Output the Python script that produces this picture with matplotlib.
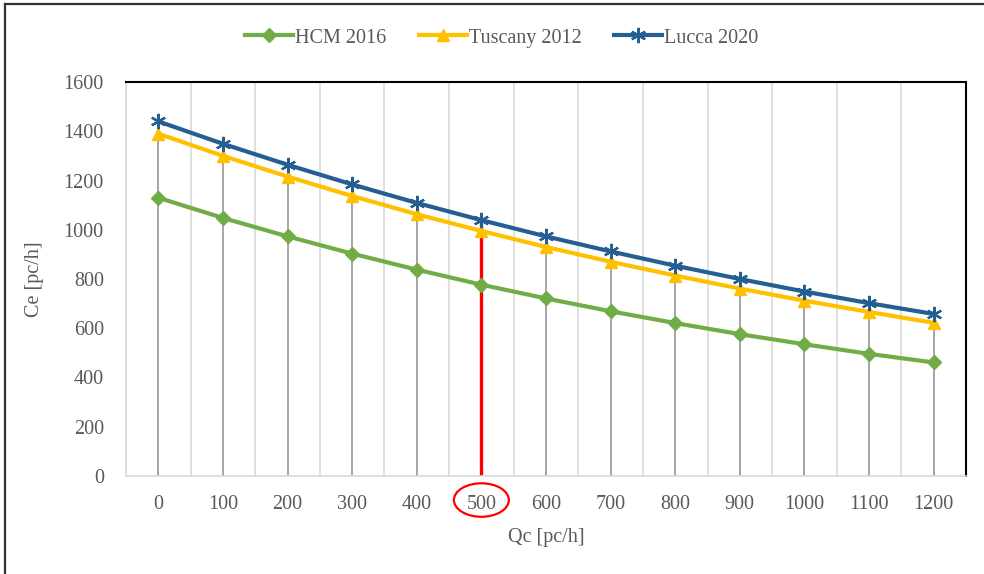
import matplotlib.pyplot as plt
import matplotlib.transforms as mtransforms
from matplotlib.patches import Ellipse
from matplotlib.lines import Line2D

# data
qc = [0, 100, 200, 300, 400, 500, 600, 700, 800, 900, 1000, 1100, 1200]
hcm_2016 = [1130, 1048, 973, 903, 838, 777, 721, 669, 621, 576, 535, 496, 461]
tuscany_2012 = [1390, 1300, 1216, 1137, 1063, 995, 930, 870, 814, 761, 712, 666, 622]
lucca_2020 = [1440, 1349, 1264, 1184, 1109, 1039, 973, 912, 854, 800, 749, 702, 658]
highlight = 500

plt.rcParams['font.family'] = ['Liberation Serif', 'DejaVu Serif']
text_col = '#595959'

fig = plt.figure(figsize=(9.84, 5.74), dpi=100)
ax = fig.add_axes([126 / 984, 1 - 476 / 574, 840 / 984, 394 / 574])

pos = list(range(len(qc)))
top = [max(a, b, c) for a, b, c in zip(hcm_2016, tuscany_2012, lucca_2020)]

# light gridlines between categories
for k in range(len(qc) + 1):
    ax.axvline(k - 0.5, color='#D9D9D9', lw=1.2, zorder=0)

# drop lines
for p, q, t in zip(pos, qc, top):
    if q == highlight:
        ax.vlines(p, 0, t, color='#FF0000', lw=2.4, zorder=1)
    else:
        ax.vlines(p, 0, t, color='#A5A5A5', lw=1.4, zorder=1)

ax.plot(pos, hcm_2016, color='#70AD47', lw=3, marker='D', ms=7, label='HCM 2016', zorder=3)
ax.plot(pos, tuscany_2012, color='#FFC000', lw=3, marker='^', ms=9, label='Tuscany 2012', zorder=3)
ax.plot(pos, lucca_2020, color='#255E91', lw=3, marker=(6, 2, 0), ms=11, mew=1.6,
        label='Lucca 2020', zorder=4)

ax.set_xlim(-0.5, len(qc) - 0.5)
ax.set_ylim(0, 1600)
ax.set_yticks(range(0, 1601, 200))
ax.set_xticks(pos)
ax.set_xticklabels([str(q) for q in qc])
ax.tick_params(axis='both', length=0, labelsize=14.5, colors=text_col)
ax.tick_params(axis='x', pad=14)
ax.tick_params(axis='y', pad=16)

for s in ['left', 'bottom']:
    ax.spines[s].set_color('#D9D9D9')
    ax.spines[s].set_linewidth(1.2)
for s in ['top', 'right']:
    ax.spines[s].set_color('black')
    ax.spines[s].set_linewidth(1.5)

ax.set_xlabel('Qc [pc/h]', fontsize=14.5, color=text_col, labelpad=10)
ax.set_ylabel('Ce [pc/h]', fontsize=14.5, color=text_col, labelpad=14)

# red circle round the highlighted tick label
tr = mtransforms.blended_transform_factory(ax.transData, ax.transAxes)
ax.add_patch(Ellipse((qc.index(highlight), -0.061), 0.85, 0.085, transform=tr,
                     fill=False, edgecolor='#FF0000', lw=1.6, clip_on=False))

fig.legend(loc='center', bbox_to_anchor=(0.51, 1 - 38 / 574), ncol=3, frameon=False,
           fontsize=14.5, handlelength=2.4, columnspacing=1.6, handletextpad=0.1,
           labelcolor=text_col)

# outer frame
fig.add_artist(Line2D([5 / 984, 1], [1 - 4 / 574, 1 - 4 / 574], color='#333333', lw=1.6))
fig.add_artist(Line2D([5 / 984, 5 / 984], [0, 1 - 4 / 574], color='#333333', lw=1.6))

fig.savefig('out.png', dpi=100)
